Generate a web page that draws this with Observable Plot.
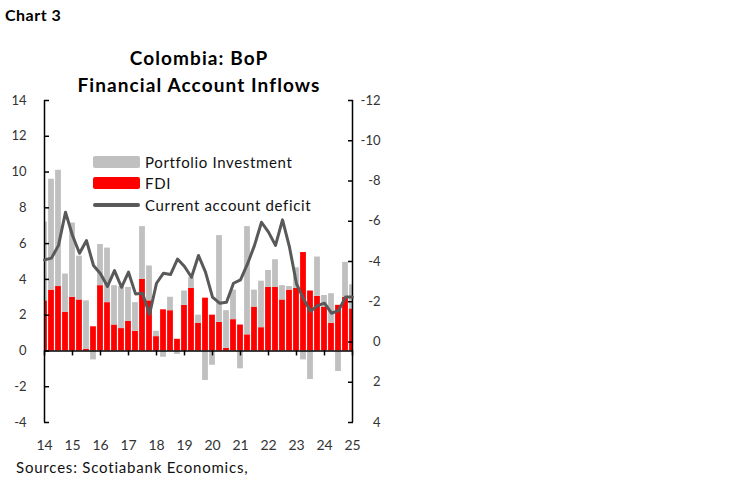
<!DOCTYPE html>
<html><head><meta charset="utf-8">
<script src="https://cdn.jsdelivr.net/npm/d3@7"></script>
<script src="https://cdn.jsdelivr.net/npm/@observablehq/plot@0.6"></script>
<style>
body{margin:0;background:#fff;font-family:Lato,"Noto Sans",sans-serif;color:#000;}
#wrap{position:relative;width:748px;height:483px;overflow:hidden;background:#fff;}
#header{position:relative;height:92px;}
#tag{position:absolute;left:5px;top:5px;font-weight:bold;font-size:16px;letter-spacing:0.5px;}
#title{position:absolute;left:0;width:398px;top:44px;text-align:center;font-weight:bold;font-size:19px;line-height:27px;letter-spacing:1.1px;}
#chart{position:relative;height:362px;}
#legend{position:absolute;left:93px;top:59px;font-size:15px;letter-spacing:0.65px;color:#111;}
.row{display:flex;align-items:center;height:21.5px;}
.sw{width:47px;margin-right:5px;}
#footer{padding-top:4px;padding-left:16px;font-size:15px;line-height:18px;letter-spacing:0.8px;color:#111;}
</style></head><body>
<div id="wrap">
  <div id="header">
    <div id="tag">Chart 3</div>
    <div id="title">Colombia: BoP<br>Financial Account Inflows</div>
  </div>
  <div id="chart">
    <div id="legend">
      <div class="row"><div class="sw" style="height:12px;background:#c0c0c0;border-radius:2px"></div>Portfolio Investment</div>
      <div class="row"><div class="sw" style="height:12px;background:#ff0000;border-radius:2px"></div>FDI</div>
      <div class="row"><div class="sw" style="height:3.5px;background:#595959;border-radius:2px"></div>Current account deficit</div>
    </div>
  </div>
  <div id="footer">Sources: Scotiabank Economics,</div>
</div>
<script>
const quarters = ["14Q1","14Q2","14Q3","14Q4","15Q1","15Q2","15Q3","15Q4","16Q1","16Q2","16Q3","16Q4",
  "17Q1","17Q2","17Q3","17Q4","18Q1","18Q2","18Q3","18Q4","19Q1","19Q2","19Q3","19Q4",
  "20Q1","20Q2","20Q3","20Q4","21Q1","21Q2","21Q3","21Q4","22Q1","22Q2","22Q3","22Q4",
  "23Q1","23Q2","23Q3","23Q4","24Q1","24Q2","24Q3","24Q4","25Q1"];
// FDI inflows (% of GDP, left axis)
const fdi = [2.8,3.4,3.6,2.15,3.0,2.85,0.1,1.35,3.65,2.7,1.45,1.25,1.65,1.1,4.0,2.8,0.8,2.3,2.25,0.65,
  2.55,3.5,1.55,2.95,2.0,1.6,0.15,1.75,1.45,0.9,2.45,1.3,3.55,3.55,2.85,3.4,3.5,5.5,3.35,3.05,
  2.45,1.55,2.55,3.0,2.35];
// Portfolio investment inflows (% of GDP, left axis)
const portfolio = [4.4,6.2,6.5,2.15,4.15,2.45,2.7,-0.5,2.3,3.05,2.2,2.35,1.9,1.6,2.95,1.95,0.3,-0.35,0.75,-0.2,
  0.8,0.6,0.45,-1.65,-0.8,4.85,2.1,1.65,-1.0,6.05,0.95,2.6,0.95,1.55,0.8,0.2,1.15,-0.5,-1.6,2.2,
  0.65,1.65,-1.15,1.95,1.35];
// Current account balance (% of GDP, right axis, inverted)
const cad = [-4.08,-4.17,-4.8,-6.45,-5.29,-4.41,-5.04,-3.8,-3.39,-2.76,-3.55,-2.72,-3.47,-2.39,-2.42,-1.37,-2.92,-3.42,-3.35,-4.12,
  -3.75,-3.22,-4.3,-3.47,-2.23,-1.93,-1.97,-2.92,-3.09,-3.88,-4.8,-5.95,-5.46,-4.8,-6.07,-4.71,-2.89,-2.15,-1.53,-1.81,
  -1.93,-1.43,-1.56,-2.23,-2.23];
const yearLabels = ["14","15","16","17","18","19","20","21","22","23","24","25"];
const leftTicks = [-4,-2,0,2,4,6,8,10,12,14];
const rightTicks = [-12,-10,-8,-6,-4,-2,0,2,4];

const n = quarters.length;
const idx = d3.range(n);
const fdiRects = idx.map(i => ({i, y1: 0, y2: fdi[i]}));
const piRects = idx.map(i => {
  const p = portfolio[i];
  return {i, y1: p >= 0 ? fdi[i] : p, y2: p >= 0 ? fdi[i] + p : 0};
});
// right axis [-12 (top) .. 4 (bottom)] mapped onto left axis [14 .. -4]
const toLeft = r => 14 - (r + 12) * 18 / 16;
const fromLeft = v => -12 + (14 - v) * 16 / 18;
const fmt = v => { const r = Math.round(v); return r < 0 ? "-" + Math.abs(r) : String(r); };
const yearIdx = yearLabels.map(y => quarters.indexOf(y + "Q1"));

const chart = Plot.plot({
  width: 748, height: 362,
  marginTop: 8, marginBottom: 32, marginLeft: 44, marginRight: 396,
  x: {type: "linear", domain: [0, n - 1], axis: null},
  y: {domain: [-4, 14], axis: null},
  style: {fontFamily: "Lato, 'Noto Sans', sans-serif", fontSize: "13px", color: "#000", background: "transparent", overflow: "visible"},
  marks: [
    Plot.rect(fdiRects, {x1: d => d.i - 0.5, x2: d => d.i + 0.5, y1: "y1", y2: "y2", fill: "#ff0000", insetLeft: 0.6, insetRight: 0.6, clip: true}),
    Plot.rect(piRects, {x1: d => d.i - 0.5, x2: d => d.i + 0.5, y1: "y1", y2: "y2", fill: "#c0c0c0", insetLeft: 0.6, insetRight: 0.6, clip: true}),
    Plot.ruleY([0], {stroke: "#000", strokeWidth: 1.5}),
    Plot.ruleX([0, n - 1], {y1: -4, y2: 14, stroke: "#000", strokeWidth: 1.5}),
    Plot.ruleX(yearIdx, {x: d => d, y1: 0, y2: 0, insetBottom: -5, stroke: "#000", strokeWidth: 1.5}),
    Plot.line(idx, {x: i => i, y: i => toLeft(cad[i]), stroke: "#595959", strokeWidth: 3, strokeLinejoin: "round", strokeLinecap: "round"}),
    Plot.axisY(leftTicks, {anchor: "left", tickSize: 5, dx: 5, tickPadding: 18, strokeWidth: 1.5, tickFormat: fmt, fontSize: 13, fill: "#333"}),
    Plot.axisY(rightTicks.map(toLeft), {anchor: "right", tickSize: 5, dx: -5, tickPadding: 28, textAnchor: "end", strokeWidth: 1.5, tickFormat: v => fmt(fromLeft(v)), fontSize: 13, fill: "#333"}),
    Plot.axisX(yearIdx, {anchor: "bottom", tickSize: 0, tickPadding: 18, tickFormat: i => yearLabels[yearIdx.indexOf(i)], fontSize: 14, fill: "#333"})
  ]
});
document.getElementById("chart").prepend(chart);
</script>
</body></html>
